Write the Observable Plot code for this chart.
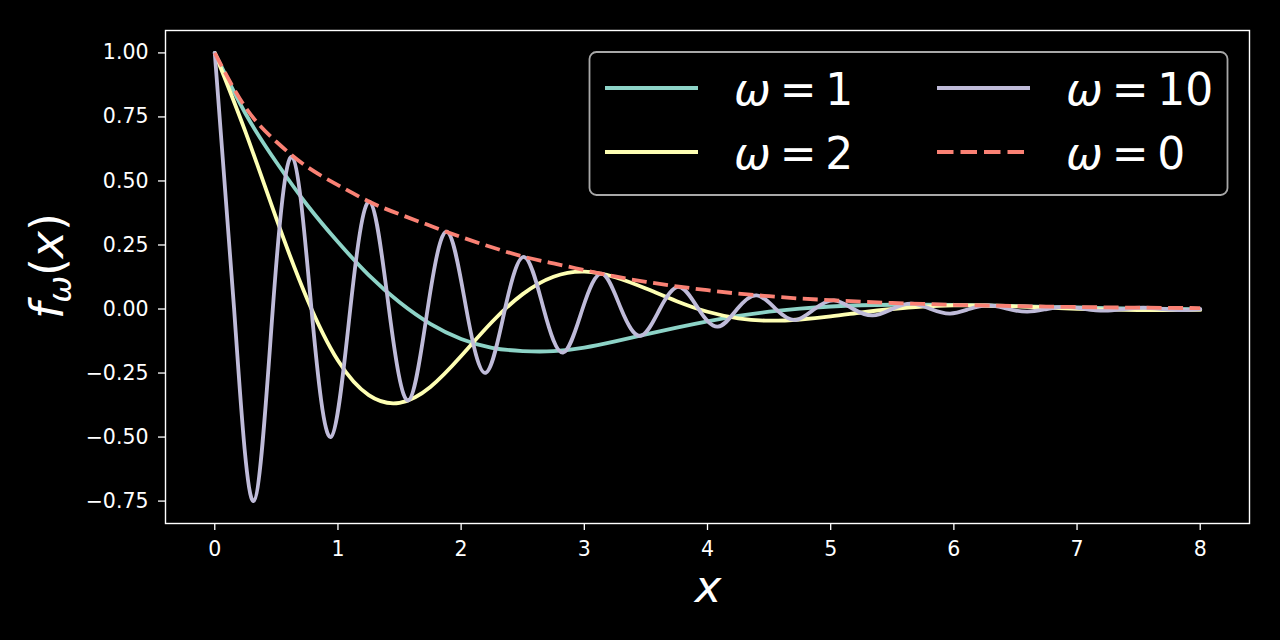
<!DOCTYPE html>
<html>
<head>
<meta charset="utf-8">
<script src="https://cdn.jsdelivr.net/npm/d3@7"></script>
<script src="https://cdn.jsdelivr.net/npm/@observablehq/plot@0.6"></script>
<style>
  html, body { margin: 0; padding: 0; background: #000; }
  #chart { width: 1280px; height: 640px; }
</style>
</head>
<body>
<div id="chart"></div>
<script>
// x grid shared by omega = 0, 1, 2
const xGrid = [0, 0.25, 0.5, 0.75, 1, 1.25, 1.5, 1.75, 2, 2.25, 2.5, 2.75, 3, 3.25, 3.5, 3.75,
  4, 4.25, 4.5, 4.75, 5, 5.25, 5.5, 5.75, 6, 6.25, 6.5, 6.75, 7, 7.25, 7.5, 7.75, 8];

// omega = 0 (dashed envelope)
const w0 = [1.000, 0.787, 0.653, 0.555, 0.484, 0.420, 0.370, 0.325, 0.281, 0.241, 0.205, 0.178,
  0.152, 0.127, 0.106, 0.0885, 0.0735, 0.060, 0.050, 0.041, 0.0347, 0.0285, 0.0235, 0.0198,
  0.0165, 0.0138, 0.0115, 0.0095, 0.0078, 0.0064, 0.0053, 0.0044, 0.0036];

// omega = 1
const w1 = [1, 0.7625, 0.5731, 0.4061, 0.2615, 0.1324, 0.0262, -0.0579, -0.1169, -0.1514, -0.1642,
  -0.1645, -0.1505, -0.1262, -0.0993, -0.0726, -0.0480, -0.0268, -0.0105, 0.0015, 0.0098, 0.0146,
  0.0167, 0.0171, 0.0158, 0.0138, 0.0112, 0.0085, 0.0059, 0.0036, 0.0018, 0.0004, -0.0005];

// omega = 2
const w2 = [1, 0.6907, 0.3528, 0.0392, -0.2014, -0.3365, -0.3663, -0.3044, -0.1837, -0.0508, 0.0582,
  0.1261, 0.1460, 0.1240, 0.0799, 0.0307, -0.0107, -0.0361, -0.0456, -0.0409, -0.0291, -0.0136,
  0.0001, 0.0096, 0.0139, 0.0138, 0.0104, 0.0057, 0.0011, -0.0023, -0.0040, -0.0043, -0.0034];

// omega = 10: peaks, troughs and zero crossings
const x10 = [0, 0.157, 0.314, 0.471, 0.628, 0.785, 0.942, 1.100, 1.257, 1.414, 1.571, 1.728, 1.885,
  2.042, 2.199, 2.356, 2.513, 2.670, 2.827, 2.985, 3.142, 3.299, 3.456, 3.613, 3.770, 3.927, 4.084,
  4.241, 4.398, 4.555, 4.712, 4.869, 5.027, 5.184, 5.341, 5.498, 5.655, 5.812, 5.969, 6.126, 6.283,
  6.440, 6.597, 6.754, 6.912, 7.069, 7.226, 7.383, 7.540, 7.697, 7.854, 8.0];
const w10 = [1, 0, -0.750, 0, 0.594, 0, -0.500, 0, 0.419, 0, -0.357, 0, 0.302, 0, -0.249, 0, 0.203,
  0, -0.170, 0, 0.138, 0, -0.105, 0, 0.086, 0, -0.069, 0, 0.0535, 0, -0.043, 0, 0.034, 0, -0.025,
  0, 0.021, 0, -0.018, 0, 0.014, 0, -0.0105, 0, 0.0085, 0, -0.0065, 0, 0.005, 0, -0.004, -0.0004];

const xTicks = [0, 1, 2, 3, 4, 5, 6, 7, 8];
const yTicks = [-0.75, -0.5, -0.25, 0, 0.25, 0.5, 0.75, 1.0];

const colors = {w1: "#8dd3c7", w2: "#feffb3", w10: "#bfbbd9", w0: "#fa8174"};

const grid = (ys) => xGrid.map((x, i) => ({x, y: ys[i]}));
const d10 = x10.map((x, i) => ({x, y: w10[i]}));

const lw = 3.8;

const chart = Plot.plot({
  width: 1280,
  height: 640,
  marginLeft: 165,
  marginRight: 31,
  marginTop: 30,
  marginBottom: 117,
  x: {domain: [-0.4, 8.4]},
  y: {domain: [-0.8375, 1.0875]},
  style: {
    background: "#000",
    color: "white",
    fontFamily: "DejaVu Sans"
  },
  marks: [
    Plot.line(grid(w1), {x: "x", y: "y", curve: "natural", stroke: colors.w1, strokeWidth: lw}),
    Plot.line(grid(w2), {x: "x", y: "y", curve: "natural", stroke: colors.w2, strokeWidth: lw}),
    Plot.line(d10, {x: "x", y: "y", curve: "natural", stroke: colors.w10, strokeWidth: lw}),
    Plot.line(grid(w0), {x: "x", y: "y", curve: "natural", stroke: colors.w0, strokeWidth: lw,
      strokeDasharray: "15,6.5", strokeLinecap: "butt"}),
    Plot.frame({stroke: "white", strokeWidth: 1.4}),
    Plot.axisX({ticks: xTicks, tickFormat: "d", tickSize: 7, tickPadding: 11, label: null,
      strokeWidth: 1.3, fontSize: 20.5}),
    Plot.axisY({ticks: yTicks, tickFormat: ".2f", tickSize: 7, tickPadding: 10, label: null,
      strokeWidth: 1.3, fontSize: 20.5})
  ]
});

const svg = d3.select(chart);

// axis labels with math-style italics
svg.append("text")
  .attr("x", 708).attr("y", 602)
  .attr("text-anchor", "middle")
  .attr("font-size", 45).attr("font-style", "italic")
  .attr("fill", "white")
  .text("x");

const yl = svg.append("text")
  .attr("transform", "translate(63,266) rotate(-90)")
  .attr("text-anchor", "middle")
  .attr("font-size", 46)
  .attr("fill", "white");
yl.append("tspan").attr("font-style", "italic").text("f");
yl.append("tspan").attr("font-style", "italic").attr("font-size", 32).attr("dy", 8).text("ω");
yl.append("tspan").attr("dy", -8).text("(");
yl.append("tspan").attr("font-style", "italic").text("x");
yl.append("tspan").text(")");

// legend
const legendItems = [
  {label: "1", color: colors.w1, col: 0, row: 0, dash: null},
  {label: "2", color: colors.w2, col: 0, row: 1, dash: null},
  {label: "10", color: colors.w10, col: 1, row: 0, dash: null},
  {label: "0", color: colors.w0, col: 1, row: 1, dash: "16.5,7"}
];
const leg = svg.append("g").attr("text-anchor", "start");
leg.append("rect")
  .attr("x", 589.5).attr("y", 52).attr("width", 638).attr("height", 143)
  .attr("rx", 7).attr("fill", "#000").attr("stroke", "#a8a8a8").attr("stroke-width", 1.8);
legendItems.forEach((d) => {
  const x0 = d.col ? 937 : 605;
  const y0 = d.row ? 152 : 88;
  leg.append("line")
    .attr("x1", x0).attr("x2", x0 + 93).attr("y1", y0).attr("y2", y0)
    .attr("stroke", d.color).attr("stroke-width", 4)
    .attr("stroke-dasharray", d.dash);
  const t = leg.append("text")
    .attr("x", x0 + 129).attr("y", y0 + 17)
    .attr("text-anchor", "start")
    .attr("font-size", 44).attr("fill", "white");
  t.append("tspan").attr("font-style", "italic").text("ω");
  t.append("tspan").text("\u2009=\u2009" + d.label);
});

d3.select("#chart").append(() => chart);
</script>
</body>
</html>
